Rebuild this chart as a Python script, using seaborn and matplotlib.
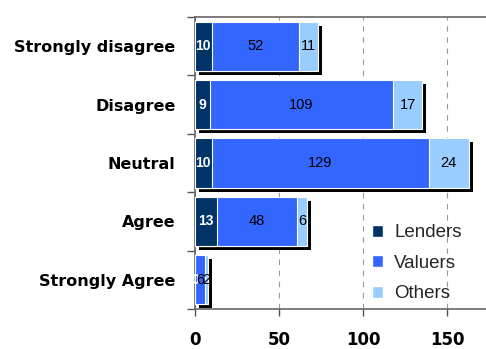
import matplotlib
matplotlib.use("Agg")
import matplotlib.pyplot as plt
import matplotlib.transforms as mtransforms
from matplotlib.patches import Patch
from matplotlib.ticker import FixedLocator
import pandas as pd
import seaborn as sns

categories = ["Strongly disagree", "Disagree", "Neutral", "Agree", "Strongly Agree"]
lenders = [10, 9, 10, 13, 0]
valuers = [52, 109, 129, 48, 6]
others = [11, 17, 24, 6, 2]
series_names = ["Lenders", "Valuers", "Others"]
x_ticks = [0, 50, 100, 150]

colors = {"Lenders": "#003366", "Valuers": "#3366FF", "Others": "#99CCFF"}

df = pd.DataFrame({"category": categories, "Lenders": lenders,
                   "Valuers": valuers, "Others": others})
df["end_L"] = df["Lenders"]
df["end_V"] = df["Lenders"] + df["Valuers"]
df["end_O"] = df["end_V"] + df["Others"]

sns.set_theme(style="white")
plt.rcParams["font.family"] = ["DejaVu Sans"]

fig = plt.figure(figsize=(4.86, 3.49), dpi=100)
ax = fig.add_axes([0.401, 0.1146, 0.599, 0.8367])

bar_w = 0.84

# drop shadow behind each whole stack
sns.barplot(data=df, y="category", x="end_O", color="black", width=bar_w,
            saturation=1, linewidth=0, orient="h", ax=ax, zorder=2)
shift = mtransforms.ScaledTranslation(0.04, -0.04, fig.dpi_scale_trans)
for p in ax.patches:
    p.set_transform(ax.transData + shift)

# stacked segments, drawn back to front
for col, name in [("end_O", "Others"), ("end_V", "Valuers"), ("end_L", "Lenders")]:
    sns.barplot(data=df, y="category", x=col, color=colors[name], width=bar_w,
                saturation=1, edgecolor="white", linewidth=0.8, orient="h",
                ax=ax, zorder=3)

# segment value labels
lab_font = ["Liberation Sans", "DejaVu Sans"]
for i in range(len(categories)):
    l, v, o = lenders[i], valuers[i], others[i]
    ax.text(l / 2, i, str(l), ha="center", va="center", color="white",
            fontsize=10, fontweight="bold", family=lab_font, zorder=5, clip_on=False)
    ax.text(l + v / 2, i, str(v), ha="center", va="center", color="black",
            fontsize=10.5, family=lab_font, zorder=5)
    ax.text(l + v + o / 2, i, str(o), ha="center", va="center", color="black",
            fontsize=10.5, family=lab_font, zorder=5)

ax.set_xlim(0, 173.2)
ax.set_ylim(len(categories) - 0.5, -0.5)
ax.set_xlabel("")
ax.set_ylabel("")

ax.set_xticks(x_ticks)
ax.set_xticklabels([str(t) for t in x_ticks], fontsize=12, fontweight="bold")
ax.set_yticks(range(len(categories)))
ax.set_yticklabels(categories, fontsize=11.5, fontweight="bold")
ax.yaxis.set_minor_locator(FixedLocator([i - 0.5 for i in range(len(categories) + 1)]))

ax.tick_params(axis="y", which="major", length=0, pad=14, colors="black")
ax.tick_params(axis="y", which="minor", left=True, length=6, width=1, color="#555555")
ax.tick_params(axis="x", which="major", bottom=True, length=5, width=1,
               color="#555555", pad=10.5, labelcolor="black")

for side in ["left", "bottom", "top"]:
    ax.spines[side].set_visible(True)
    ax.spines[side].set_color("#666666")
    ax.spines[side].set_linewidth(1.2)
ax.spines["right"].set_visible(False)

ax.grid(axis="x", color="#999999", linestyle=(0, (5, 5)), linewidth=0.8)
ax.set_axisbelow(True)

handles = [Patch(facecolor=colors[n], edgecolor="white", label=n) for n in series_names]
ax.legend(handles=handles, loc="lower right", bbox_to_anchor=(0.975, -0.035),
          frameon=False, handlelength=0.6, handleheight=0.6, handletextpad=0.6,
          labelspacing=0.72, prop={"family": lab_font, "size": 13.5})

fig.savefig("out.png", dpi=100)
